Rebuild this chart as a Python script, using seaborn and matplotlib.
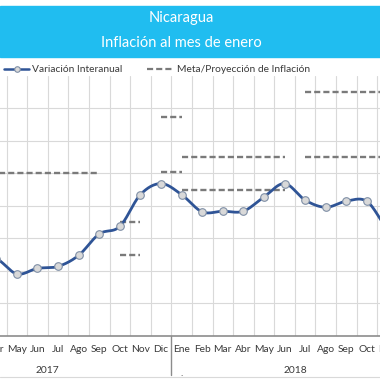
import numpy as np
import pandas as pd
import seaborn as sns
import matplotlib.pyplot as plt
from matplotlib.lines import Line2D
from matplotlib.patches import Rectangle

# months and values (2017-2018)
meses = ["Ene", "Feb", "Mar", "Abr", "May", "Jun", "Jul", "Ago", "Sep", "Oct", "Nov", "Dic"]
anios = ["2017", "2018"]
variacion = [3.60, 3.42, 3.40, 3.38, 2.91, 3.08, 3.14, 3.48, 4.14, 4.37, 5.35, 5.69,
             5.35, 4.82, 4.84, 4.84, 5.28, 5.69, 5.18, 4.96, 5.15, 5.14, 4.30, 3.90]

# goal / projection segments: start month index, end month index, value
meta_inicio = [0, 9, 9, 11, 11, 12, 12, 18, 18]
meta_fin = [8, 10, 10, 12, 12, 17, 17, 23, 23]
meta_valor = [6.0, 4.5, 3.5, 7.75, 6.05, 6.5, 5.5, 8.5, 6.5]

sns.set_style("white")
plt.rcParams['font.family'] = ['Lato', 'DejaVu Sans']
plt.rcParams['lines.scale_dashes'] = False

azul = "#2F5496"
gris = "#7A7A7A"
texto = "#3A3A3A"
dash = (0, (4.4, 2.2))

df = pd.DataFrame({"mes": np.arange(len(variacion)), "valor": variacion})

# smoothed line like excel (bezier through the points)
x = df["mes"].values.astype(float)
y = df["valor"].values
xs, ys = [], []
t = np.linspace(0, 1, 25)
for k in range(len(x) - 1):
    p0 = np.array([x[max(k - 1, 0)], y[max(k - 1, 0)]])
    p1 = np.array([x[k], y[k]])
    p2 = np.array([x[k + 1], y[k + 1]])
    p3 = np.array([x[min(k + 2, len(x) - 1)], y[min(k + 2, len(x) - 1)]])
    b1 = p1 + (p2 - p0) / 6
    b2 = p2 - (p3 - p1) / 6
    pts = ((1 - t) ** 3)[:, None] * p1 + (3 * (1 - t) ** 2 * t)[:, None] * b1 \
        + (3 * (1 - t) * t ** 2)[:, None] * b2 + (t ** 3)[:, None] * p2
    xs.extend(pts[:, 0])
    ys.extend(pts[:, 1])

fig = plt.figure(figsize=(3.8, 3.8), dpi=100)
ax = fig.add_axes([-0.1997, 0.1158, 1.301, 0.6842])

# banner with titles
fig.patches.append(Rectangle((0, 0.85), 1, 0.134, transform=fig.transFigure,
                             color="#20BDF0", zorder=0))
fig.text(0.476, 0.953, "Nicaragua", color="white", fontsize=10.5, ha="center", va="center")
fig.text(0.476, 0.886, "Inflación al mes de enero", color="white", fontsize=10.5,
         ha="center", va="center")

# legend drawn by hand
ly = 1 - 69 / 380
fig.add_artist(Line2D([4 / 380, 29 / 380], [ly, ly], color=azul, lw=1.8,
                      transform=fig.transFigure))
fig.add_artist(Line2D([17 / 380], [ly], marker="o", ms=4, mfc="#D9D9D9", mec="#7F8FA6",
                      mew=0.8, transform=fig.transFigure))
fig.text(32 / 380, ly, "Variación Interanual", fontsize=7.4, color=texto, va="center")
fig.add_artist(Line2D([147 / 380, 172 / 380], [ly, ly], color=gris, lw=1.6, ls=dash,
                      transform=fig.transFigure))
fig.text(177 / 380, ly, "Meta/Proyección de Inflación", fontsize=7.4, color=texto,
         va="center")

# goal segments
for a, b, v in zip(meta_inicio, meta_fin, meta_valor):
    ax.plot([a, b], [v, v], color=gris, lw=1.7, ls=dash, zorder=2)

sns.lineplot(x=xs, y=ys, sort=False, color=azul, lw=2.0, ax=ax, zorder=3)
sns.scatterplot(data=df, x="mes", y="valor", s=30, color="#D9D9D9", edgecolor="#7F8FA6",
                linewidth=0.8, ax=ax, zorder=4)

ax.set_xlim(-0.5, 23.5)
ax.set_ylim(1, 9)
ax.set_xticks(range(24))
ax.set_xticklabels(meses * 2, fontsize=7.4, color=texto)
ax.set_xticks(np.arange(-0.5, 24, 1), minor=True)
ax.set_yticks(range(2, 9))
ax.set_yticklabels([])
ax.tick_params(axis="x", which="both", length=0, pad=6.5)
ax.tick_params(axis="y", length=0)
ax.grid(axis="x", which="minor", color="#D9D9D9", lw=0.8)
ax.grid(axis="y", which="major", color="#D9D9D9", lw=0.8)
ax.set_xlabel("")
ax.set_ylabel("")
for s in ["top", "right", "left"]:
    ax.spines[s].set_visible(False)
ax.spines["bottom"].set_color("#8C8C8C")
ax.spines["bottom"].set_linewidth(1.2)

# year level of the axis
trans = ax.get_xaxis_transform()
for j, anio in enumerate(anios):
    ax.text(5.5 + 12 * j, -0.131, anio, transform=trans, fontsize=7.4, color=texto,
            ha="center", va="center")
for sep in [-0.5, 11.5, 23.5]:
    ax.plot([sep, sep], [0, -0.15], transform=trans, color="#8C8C8C", lw=1.0, clip_on=False)
ax.text(12, -0.145, ".", transform=trans, fontsize=7, color=texto, ha="center",
        va="center")
fig.add_artist(Line2D([0, 1], [1 - 377 / 380, 1 - 377 / 380], color="#D9D9D9", lw=0.8,
                      transform=fig.transFigure))

plt.savefig("out.png", dpi=100)
